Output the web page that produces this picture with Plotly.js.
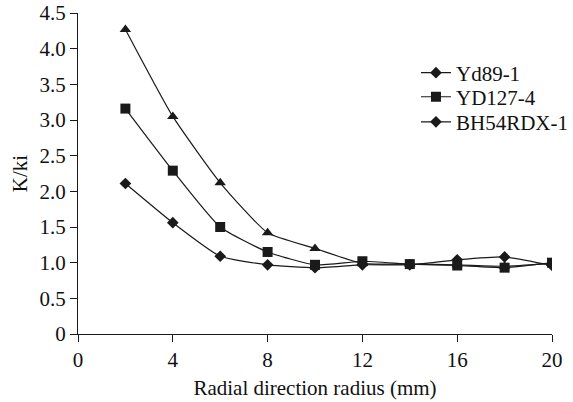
<!DOCTYPE html>
<html>
<head>
<meta charset="utf-8">
<script src="https://cdn.plot.ly/plotly-3.0.1.min.js"></script>
<style>html,body{margin:0;padding:0;background:#fff;}#chart{width:573px;height:402px;}</style>
</head>
<body>
<div id="chart"></div>
<script>
const radius = [2, 4, 6, 8, 10, 12, 14, 16, 18, 20];
const yd89 = [2.11, 1.56, 1.09, 0.97, 0.93, 0.97, 0.97, 1.04, 1.08, 0.96];
const yd127 = [3.16, 2.29, 1.50, 1.15, 0.97, 1.02, 0.98, 0.96, 0.93, 1.00];
const bh54 = [4.27, 3.05, 2.12, 1.42, 1.20, 0.99, 0.98, 0.97, 0.95, 0.99];
const seriesNames = ['Yd89-1', 'YD127-4', 'BH54RDX-1'];
const yTickVals = [0, 0.5, 1, 1.5, 2, 2.5, 3, 3.5, 4, 4.5];
const yTickText = ['0', '0.5', '1.0', '1.5', '2.0', '2.5', '3.0', '3.5', '4.0', '4.5'];
const xTickVals = [0, 4, 8, 12, 16, 20];

const ink = '#1a1a1a';
const FS = 21;
function tr(y, name, sym, size, leg) {
  return {
    x: radius, y: y, name: name, type: 'scatter', mode: 'lines+markers', legend: leg,
    line: {color: ink, width: 1.2, shape: 'spline', smoothing: 0.5},
    marker: {color: ink, symbol: sym, size: size}
  };
}
const data = [
  tr(yd89, seriesNames[0], 'diamond', 9, 'legend'),
  tr(yd127, seriesNames[1], 'square', 10, 'legend2'),
  tr(bh54, seriesNames[2], 'triangle-up', 10, 'legend3')
];
// the original legend shows a diamond for the third entry
data[2].showlegend = false;
data.push({x: [null], y: [null], name: seriesNames[2], type: 'scatter', mode: 'lines+markers', legend: 'legend3',
  line: {color: ink, width: 1.2}, marker: {color: ink, symbol: 'diamond', size: 9}});

function leg(y) {
  return {x: 0.713, y: y, xanchor: 'left', yanchor: 'middle', font: {size: FS},
    bgcolor: 'rgba(0,0,0,0)', itemwidth: 30};
}

const layout = {
  width: 573, height: 402,
  margin: {l: 78, r: 21, t: 13, b: 68, autoexpand: false},
  paper_bgcolor: '#fff', plot_bgcolor: '#fff',
  font: {family: 'Liberation Serif, Times New Roman, serif', size: FS, color: '#111'},
  showlegend: true,
  legend: leg(0.813),
  legend2: leg(0.738),
  legend3: leg(0.660),
  xaxis: {range: [0, 20], tickvals: xTickVals, showline: true, linecolor: ink, linewidth: 1,
    ticks: 'outside', ticklen: 7, tickcolor: ink, showgrid: false, zeroline: false,
    tickfont: {size: FS},
    title: {text: 'Radial direction radius (mm)', font: {size: FS}, standoff: 9}},
  yaxis: {range: [0, 4.5], tickvals: yTickVals, ticktext: yTickText, showline: true, linecolor: ink, linewidth: 1,
    ticks: 'outside', ticklen: 7, tickcolor: ink, showgrid: false, zeroline: false,
    tickfont: {size: FS},
    title: {text: 'K/ki', font: {size: FS}, standoff: 6}}
};
Plotly.newPlot('chart', data, layout, {displayModeBar: false, staticPlot: true});
</script>
</body>
</html>
